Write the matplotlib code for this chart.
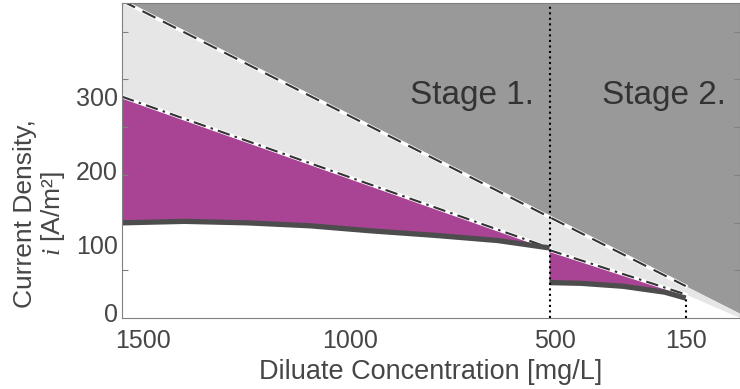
import numpy as np
import matplotlib.pyplot as plt
from matplotlib.ticker import MultipleLocator
from matplotlib.transforms import ScaledTranslation

plt.rcParams['font.family'] = ['Liberation Sans', 'DejaVu Sans']
plt.rcParams['mathtext.fontset'] = 'custom'
plt.rcParams['mathtext.it'] = 'Liberation Serif:italic'

# limiting current density line (proportional to concentration)
limit_conc = [1500, 20]
limit_i = [430, 6]

# recommended operating limit, stage 1 and stage 2
opt1_conc = [1500, 476]
opt1_i = [300, 95]
opt2_conc = [476, 150, 20]
opt2_i = [92, 32, 0]

# applied current density in each stage
op1_conc = [1500, 1350, 1200, 1050, 900, 750, 600, 476]
op1_i = [129, 131, 129, 125, 118, 112, 105, 95]
op2_conc = [476, 400, 300, 200, 150]
op2_i = [48, 47, 43, 35, 27]

stage_break = 476
final_conc = 150

xtick_vals = [1500, 1000, 500, 150]
xtick_labels = ['1500', '1000', '500', '150']
ytick_vals = [0, 100, 200, 300]

txt = '#464646'
dark_fill = '#999999'
light_fill = '#e6e6e6'
purple = '#a94495'
line_col = '#4d4d4d'

fig = plt.figure(figsize=(7.4, 3.89), dpi=100)
ax = fig.add_axes([122 / 740, 1 - 318 / 389, 618 / 740, 315 / 389])
ax.set_xlim(1500, 20)
ax.set_ylim(0, 427)

# regions above the limiting line and between the two limits
ax.fill_between(limit_conc, limit_i, 500, color=dark_fill, lw=0)
ax.fill(limit_conc + opt2_conc[::-1] + opt1_conc[::-1],
        limit_i + opt2_i[::-1] + opt1_i[::-1], color=light_fill, lw=0)

# purple band between operating limit and applied current
ax.fill(op1_conc + opt1_conc[::-1], op1_i + opt1_i[::-1], color=purple, lw=0)
ax.fill(op2_conc + opt2_conc[1::-1], op2_i + opt2_i[1::-1], color=purple, lw=0)

# limiting line, dashed with white backing
lim_end = final_conc
lim_i_end = np.interp(lim_end, limit_conc[::-1], limit_i[::-1])
ax.plot([limit_conc[0], lim_end], [limit_i[0], lim_i_end], color='white', lw=2.6)
ax.plot([limit_conc[0], lim_end], [limit_i[0], lim_i_end], color='#333333',
        lw=1.5, dashes=(7, 4))

# operating limit, dash-dot with white backing
for cc, ii in [(opt1_conc, opt1_i), (opt2_conc[:2], opt2_i[:2])]:
    ax.plot(cc, ii, color='white', lw=2.6)
    ax.plot(cc, ii, color='#333333', lw=1.5, dashes=(6, 2.5, 1.2, 2.5))

ax.plot(op1_conc, op1_i, color=line_col, lw=3.8, solid_capstyle='butt')
ax.plot(op2_conc, op2_i, color=line_col, lw=3.8, solid_capstyle='butt')

ax.axvline(stage_break, color='black', ls=':', lw=1.5)
ax.plot([final_conc, final_conc], [0, op2_i[-1]], color='black', ls=':', lw=1.5)

ax.text(663, 302, 'Stage 1.', fontsize=24, color='#333333', ha='center', va='center')
ax.text(201, 302, 'Stage 2.', fontsize=24, color='#333333', ha='center', va='center')

for s in ax.spines.values():
    s.set_color('#808080')
    s.set_linewidth(0.8)

ax.set_xticks(xtick_vals)
ax.set_xticklabels(xtick_labels)
ax.set_yticks(ytick_vals)
ax.tick_params(axis='both', which='major', length=0, labelsize=18, labelcolor=txt)
ax.tick_params(axis='x', which='major', pad=8)
ax.tick_params(axis='y', which='major', pad=3)

# tick marks sit apart from the labels
ax.xaxis.set_minor_locator(MultipleLocator(500))
ax.yaxis.set_minor_locator(MultipleLocator(64.7))
ax.tick_params(which='minor', direction='in', length=4.5, width=0.8,
               color='#808080', top=True, right=True)

shifts = [21, 19, 15, 0]
for lab, dx in zip(ax.get_xticklabels(), shifts):
    lab.set_transform(lab.get_transform() + ScaledTranslation(dx / 100, 0, fig.dpi_scale_trans))
ylabs = ax.get_yticklabels()
ylabs[0].set_transform(ylabs[0].get_transform() + ScaledTranslation(0, 5 / 100, fig.dpi_scale_trans))

ax.set_xlabel('Diluate Concentration [mg/L]', fontsize=19.5, color=txt, labelpad=4)
ax.set_ylabel('Current Density,\n$i$ [A/m²]', fontsize=19, color=txt,
              linespacing=1.1, ha='center', va='center')
ax.yaxis.set_label_coords(-0.133, 0.333)

fig.savefig('out.png', dpi=100)
